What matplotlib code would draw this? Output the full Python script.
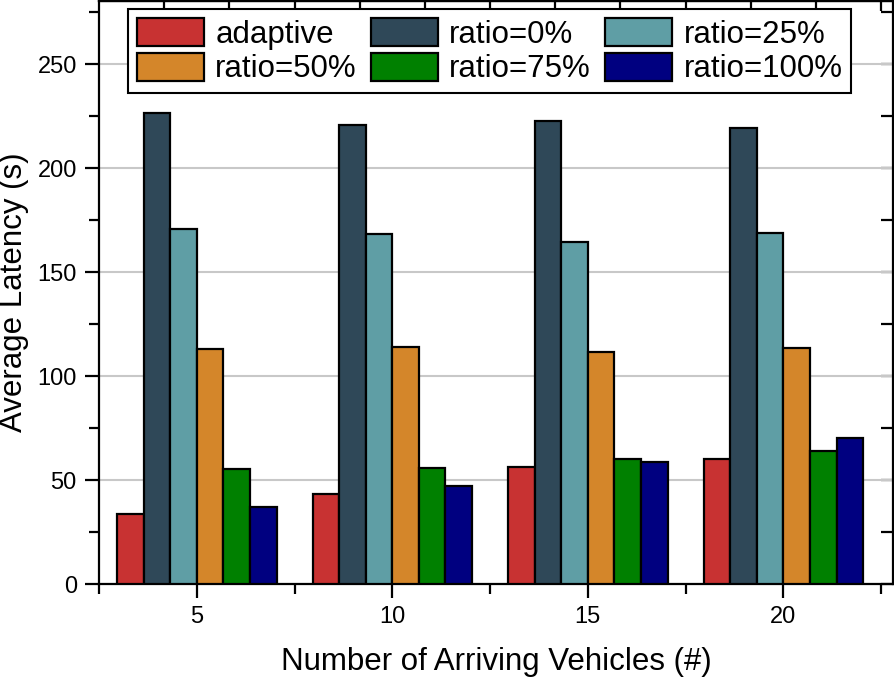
import numpy as np
import matplotlib
matplotlib.use('Agg')
import matplotlib.pyplot as plt
from matplotlib.ticker import MultipleLocator

plt.rcParams['font.family'] = ['Liberation Sans', 'DejaVu Sans']

# data
groups = [5, 10, 15, 20]
series_names = ['adaptive', 'ratio=0%', 'ratio=25%', 'ratio=50%', 'ratio=75%', 'ratio=100%']
adaptive = [33.7, 43.3, 56.2, 60.0]
ratio_0 = [226.4, 221.0, 223.0, 219.2]
ratio_25 = [170.7, 168.3, 164.4, 168.8]
ratio_50 = [113.0, 114.0, 111.5, 113.5]
ratio_75 = [55.3, 55.8, 60.1, 63.9]
ratio_100 = [37.0, 47.0, 58.6, 70.2]
colors = ['#C83232', '#2F4858', '#5F9EA5', '#D4862A', '#008000', '#000080']

all_series = [adaptive, ratio_0, ratio_25, ratio_50, ratio_75, ratio_100]

fig = plt.figure(figsize=(8.95, 6.79), dpi=100)
ax = fig.add_axes([0.1106, 0.1399, 0.887, 0.8586])

bar_w = 0.68
x = np.array(groups, dtype=float)
n = len(all_series)
bars = []
for i, (vals, name, col) in enumerate(zip(all_series, series_names, colors)):
    offset = (i - (n - 1) / 2) * bar_w
    b = ax.bar(x + offset, vals, width=bar_w, color=col, edgecolor='black',
               linewidth=1.6, label=name, zorder=3)
    bars.append(b)

ax.set_xlim(2.5, 22.8)
ax.set_ylim(0, 280.5)
ax.set_xticks(groups)
ax.xaxis.set_minor_locator(MultipleLocator(2.5))
ax.yaxis.set_major_locator(MultipleLocator(50))
ax.yaxis.set_minor_locator(MultipleLocator(25))
ax.grid(axis='y', which='major', color='#c8c8c8', linewidth=1.5, zorder=0)

for s in ax.spines.values():
    s.set_linewidth(1.6)
    s.set_color('black')

ax.tick_params(axis='both', which='major', direction='out', length=10, width=1.6,
               labelsize=17, pad=6)
ax.tick_params(axis='both', which='minor', direction='out', length=7, width=1.6)

# top ticks (inward, no labels)
top = ax.secondary_xaxis('top')
top.set_xticks(np.arange(2.5 + 5 / 3, 22.8, 5 / 3))
top.tick_params(direction='in', length=7, width=1.6, labeltop=False)
top.spines['top'].set_linewidth(1.6)

# right ticks inward
right = ax.secondary_yaxis('right')
right.yaxis.set_major_locator(MultipleLocator(50))
right.yaxis.set_minor_locator(MultipleLocator(25))
right.tick_params(which='both', direction='in', length=9, width=1.6, labelright=False)

ax.set_xlabel('Number of Arriving Vehicles (#)', fontsize=22.5)
ax.set_ylabel('Average Latency (s)', fontsize=22.5)
ax.xaxis.set_label_coords(0.5, -0.108)
ax.yaxis.set_label_coords(-0.088, 0.5)

# legend filled row by row like the original
order = [0, 3, 1, 4, 2, 5]
leg = ax.legend([bars[k] for k in order], [series_names[k] for k in order],
                ncol=3, loc='upper left', bbox_to_anchor=(0.0365, 0.986),
                borderaxespad=0, fontsize=22.5, handlelength=2.15, handleheight=1.0,
                handletextpad=0.36, columnspacing=0.45, labelspacing=0.1,
                borderpad=0.28, fancybox=False, framealpha=1, edgecolor='black')
leg.get_frame().set_linewidth(1.5)
leg.set_zorder(5)

fig.savefig('out.png', dpi=100)
